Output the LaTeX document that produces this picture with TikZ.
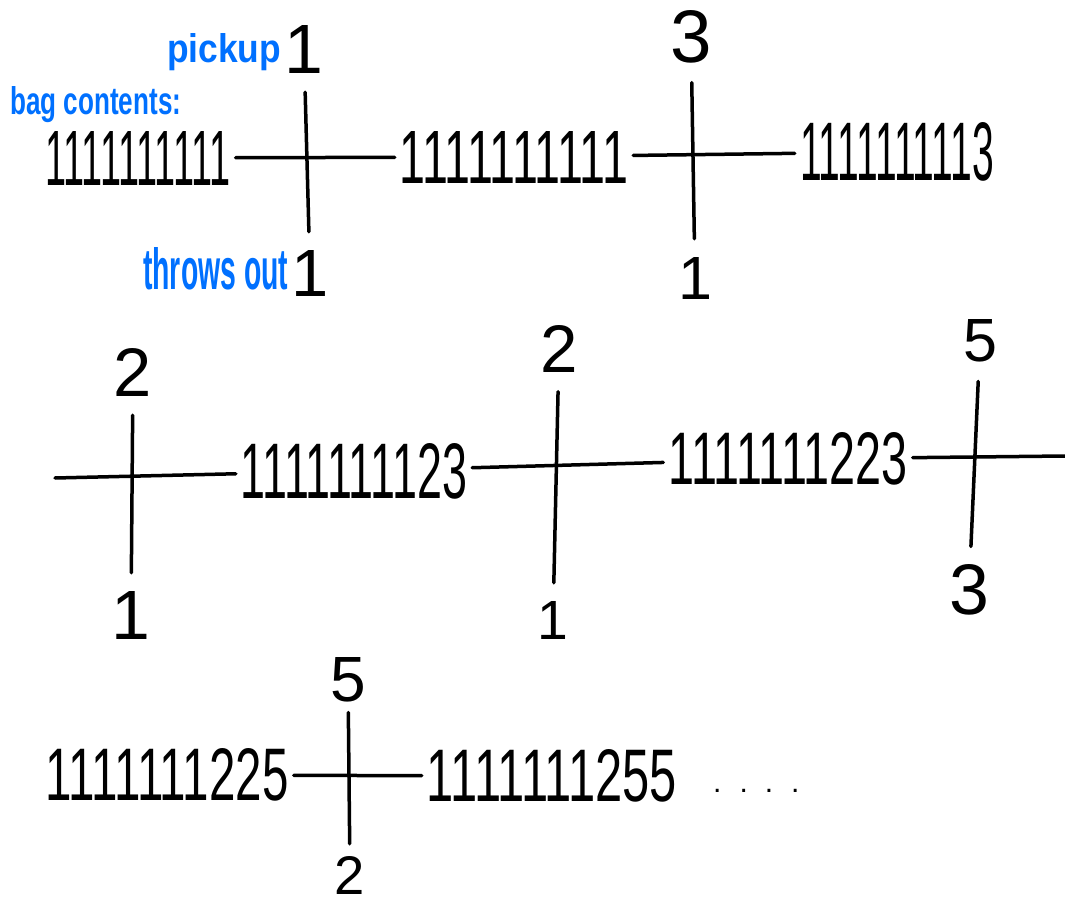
\documentclass[tikz,border=0pt]{standalone}
\usepackage{fontspec}
\setmainfont{Liberation Sans}
\usepackage{graphicx}
\definecolor{penblue}{RGB}{0,112,255}
\newcommand{\hw}[3]{\resizebox{#1}{#2}{#3}}
\begin{document}
\begin{tikzpicture}[x=1pt,y=-1pt,
  seq/.style={inner sep=5pt},
  num/.style={inner sep=0pt},
  note/.style={inner sep=0pt,text=penblue,font=\bfseries},
  conn/.style={line width=3.5pt,line cap=round},
  crossline/.style={line width=3.5pt,line cap=round,shorten <=19pt,shorten >=18pt}]
\useasboundingbox (0,0) rectangle (1065,909);

% ---- row 1 ----
\node[seq] (a1) at (138,158) {\hw{185pt}{54pt}{1111111111}};
\node[seq] (a2) at (514,157) {\hw{228pt}{52pt}{1111111111}};
\node[seq] (a3) at (897,152) {\hw{194pt}{58pt}{1111111113}};
\node[num] (t1) at (304,49) {\hw{!}{48pt}{1}};
\node[num] (b1) at (310,273) {\hw{!}{46pt}{1}};
\node[num] (t2) at (691,37) {\hw{!}{52pt}{3}};
\node[num] (b2) at (695,278) {\hw{!}{42pt}{1}};
\node[note,anchor=base west] (pick) at (167,63) {\hw{114pt}{29pt}{pickup}};
\node[note,anchor=base west] (bag) at (10,115) {\hw{171pt}{28pt}{bag contents:}};
\node[note,anchor=base west] (throw) at (143,290) {\hw{145pt}{42pt}{throws out}};
\draw[conn] (a1) -- (a2);
\draw[conn] (a2) -- (a3);
\draw[crossline] (t1) -- (b1);
\draw[crossline] (t2) -- (b2);

% ---- row 2 ----
\coordinate (s2) at (55,478);
\coordinate (e2) at (1065,456);
\node[seq] (c1) at (354,471) {\hw{226pt}{55pt}{1111111123}};
\node[seq] (c2) at (788,459) {\hw{239pt}{52pt}{1111111223}};
\node[num] (t3) at (133,372) {\hw{!}{48pt}{2}};
\node[num] (b3) at (131,615) {\hw{!}{48pt}{1}};
\node[num] (t4) at (559,349) {\hw{!}{47pt}{2}};
\node[num] (b4) at (553,620) {\hw{!}{38pt}{1}};
\node[num] (t5) at (980,341) {\hw{!}{42pt}{5}};
\node[num] (b5) at (969,590) {\hw{!}{50pt}{3}};
\draw[conn] (s2) -- (c1);
\draw[conn] (c1) -- (c2);
\draw[conn] (c2) -- (e2);
\draw[crossline] (t3) -- (b3);
\draw[crossline] (t4) -- (b4);
\draw[crossline] (t5) -- (b5);

% ---- row 3 ----
\node[seq] (d1) at (167,775) {\hw{243pt}{52pt}{1111111225}};
\node[seq] (d2) at (552,776) {\hw{250pt}{52pt}{1111111255}};
\node[num] (t6) at (348,680) {\hw{!}{44pt}{5}};
\node[num] (b6) at (350,875) {\hw{!}{38pt}{2}};
\node[num,anchor=base west] (dots) at (713,792) {\fontsize{30pt}{30pt}\selectfont .\hspace{18pt}.\hspace{17pt}.\hspace{18pt}.};
\draw[conn] (d1) -- (d2);
\draw[crossline,shorten <=10pt,shorten >=12pt] (t6) -- (b6);
\end{tikzpicture}
\end{document}
